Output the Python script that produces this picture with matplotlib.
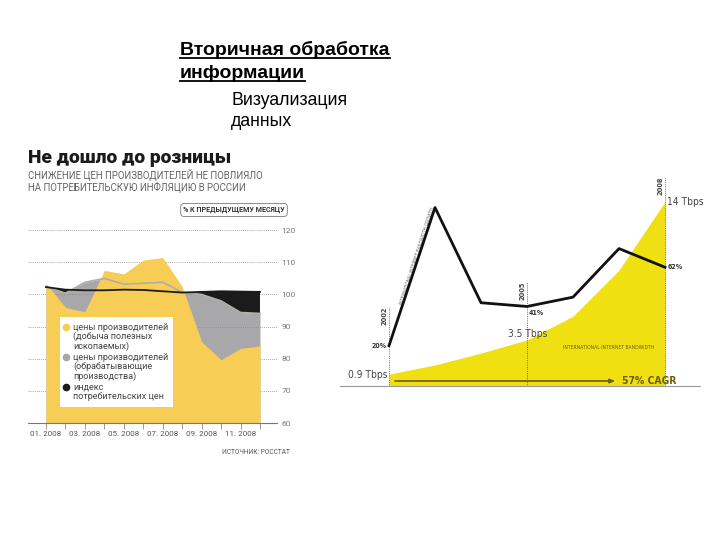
"""Slide: 'Вторичная обработка информации' with two example charts."""
import matplotlib
matplotlib.use("Agg")
import matplotlib.pyplot as plt
from matplotlib.lines import Line2D
from matplotlib.patches import FancyBboxPatch

# left chart: producer / consumer prices, % to previous month, 2008
MONTHS = list(range(1, 13))
MONTH_LABELS = ["01. 2008", "", "03. 2008", "", "05. 2008", "", "07. 2008", "",
                "09. 2008", "", "11. 2008", ""]
MINING = [103.5, 96.0, 94.6, 107.5, 106.4, 110.7, 111.5, 102.5, 85.3, 79.7, 83.2, 84.0]
MANUF = [102.5, 100.4, 103.8, 105.0, 103.2, 103.5, 103.8, 100.7, 100.0, 98.0, 94.4, 94.1]
CPI = [102.3, 101.5, 101.3, 101.3, 101.5, 101.4, 101.0, 100.6, 100.8, 101.0, 100.9, 100.8]
LEFT_YTICKS = [60, 70, 80, 90, 100, 110, 120]

# right chart: international internet bandwidth
YEARS = [2002, 2003, 2004, 2005, 2006, 2007, 2008]
BANDWIDTH = [0.9, 1.6, 2.5, 3.5, 5.3, 8.8, 14.0]  # Tbps
GROWTH = [20, 94, 43, 41, 46, 72, 62]  # %
MARKED_YEARS = [2002, 2005, 2008]

YELLOW_L = "#F8CD55"
GRAY_L = "#A8A8AA"
YELLOW_R = "#F0E012"
FONT_L = ["Roboto", "DejaVu Sans"]
FONT_R = ["Liberation Sans Narrow", "DejaVu Sans Condensed", "DejaVu Sans"]
ARIAL = ["Liberation Sans", "DejaVu Sans"]


def px(x, y):
    """pixel position on the 720x540 slide -> figure fraction"""
    return x / 720, 1 - y / 540


def header(fig):
    t1 = fig.text(*px(180, 55), "Вторичная обработка", fontsize=14, fontweight="bold",
                  family=ARIAL, va="baseline")
    t2 = fig.text(*px(180, 78), "информации", fontsize=14, fontweight="bold",
                  family=ARIAL, va="baseline")
    fig.text(*px(231, 105), "Визуализация", fontsize=12.8, family=ARIAL, va="baseline")
    fig.text(*px(231, 126), "данных", fontsize=12.8, family=ARIAL, va="baseline")
    fig.canvas.draw()
    r = fig.canvas.get_renderer()
    for t, y in ((t1, 58), (t2, 81)):
        bb = t.get_window_extent(r)
        x0, x1 = bb.x0 / fig.bbox.width, bb.x1 / fig.bbox.width
        yy = 1 - y / 540
        fig.add_artist(Line2D([x0, x1], [yy, yy], color="black", lw=1.3))


def prices(fig):
    ax = fig.add_axes([28 / 720, 1 - 423 / 540, 249 / 720, 196 / 540])
    ax.fill_between(MONTHS, 60, MANUF, color=GRAY_L, lw=0, zorder=1)
    ax.fill_between(MONTHS, 60, MINING, color=YELLOW_L, lw=0, zorder=2)
    ax.fill_between(MONTHS, MANUF, CPI, where=[c > m for c, m in zip(CPI, MANUF)],
                    interpolate=True, color="#1b1b1b", lw=0, zorder=3)
    ax.plot(MONTHS, MANUF, color="#b0aea6", lw=1.2, zorder=4)
    ax.plot(MONTHS, CPI, color="#1b1b1b", lw=1.3, zorder=5)
    ax.set_xlim(0.075, 12.875)
    ax.set_ylim(60, 121)
    ax.set_yticks(LEFT_YTICKS)
    ax.yaxis.tick_right()
    ax.tick_params(axis="y", length=0, pad=3, labelsize=6, labelcolor="#777")
    ax.set_xticks(MONTHS)
    ax.set_xticklabels(MONTH_LABELS)
    ax.tick_params(axis="x", length=4, width=0.6, color="#888", pad=2,
                   labelsize=5.8, labelcolor="#555")
    for lab in ax.get_xticklabels() + ax.get_yticklabels():
        lab.set_family(FONT_L)
    ax.grid(axis="y", ls=(0, (1, 1.5)), color="#888", lw=0.6, zorder=0)
    for s in ("top", "left", "right"):
        ax.spines[s].set_visible(False)
    ax.spines["bottom"].set_color("#777")
    ax.spines["bottom"].set_linewidth(0.8)
    ax.set_facecolor("none")

    # legend box drawn by hand
    fig.add_artist(FancyBboxPatch(px(60, 407), 113 / 720, 90 / 540, boxstyle="square,pad=0",
                                  fc="white", ec="none", zorder=6))
    items = [
        (YELLOW_L, ["цены производителей", "(добыча полезных", "ископаемых)"], 327),
        (GRAY_L, ["цены производителей", "(обрабатывающие", "производства)"], 357),
        ("#1b1b1b", ["индекс", "потребительских цен"], 387),
    ]
    for color, lines, y0 in items:
        fig.add_artist(Line2D([66 / 720], [1 - y0 / 540], marker="o", ms=4.5, color=color,
                              ls="none", zorder=7))
        fig.text(*px(73, y0 - 4.5), "\n".join(lines), fontsize=6.5, color="#444", family=FONT_L,
                 va="top", linespacing=1.05, zorder=7)

    fig.text(*px(28, 158), "Не дошло до розницы", fontsize=13.8, fontweight="black",
             family=FONT_L, va="center", color="#1b1b1b")
    fig.text(*px(28, 181), "СНИЖЕНИЕ ЦЕН ПРОИЗВОДИТЕЛЕЙ НЕ ПОВЛИЯЛО\nНА ПОТРЕБИТЕЛЬСКУЮ ИНФЛЯЦИЮ В РОССИИ",
             fontsize=6.9, color="#666", family=FONT_L, va="center", linespacing=1.2)
    fig.text(*px(234, 210), "% К ПРЕДЫДУЩЕМУ МЕСЯЦУ", fontsize=5.1, fontweight="bold", color="#333",
             family=FONT_L, ha="center", va="center",
             bbox=dict(boxstyle="round,pad=0.35,rounding_size=0.5", fc="white", ec="#777", lw=0.6))
    fig.text(*px(290, 452), "ИСТОЧНИК: РОССТАТ", fontsize=4.8, color="#555", family=FONT_L,
             ha="right", va="center")


def bandwidth(fig):
    ax = fig.add_axes([340 / 720, 1 - 386 / 540, 360 / 720, 216 / 540])
    ax.fill_between(YEARS, 0, BANDWIDTH, color=YELLOW_R, lw=0, zorder=1)
    ax.set_xlim(2000.935, 2008.76)
    ax.set_ylim(0, 16.4)
    ax.set_xticks([])
    ax.set_yticks([])
    for s in ("top", "left", "right"):
        ax.spines[s].set_visible(False)
    ax.spines["bottom"].set_color("#999")
    ax.spines["bottom"].set_linewidth(0.8)

    tops = {2002: 6.0, 2005: 7.9, 2008: 15.9}
    for yr in MARKED_YEARS:
        ax.plot([yr, yr], [0, tops[yr]], color="#555", lw=0.6, ls=(0, (1, 1.2)), zorder=3)
        ax.text(yr - 0.03, tops[yr], str(yr), rotation=90, ha="right", va="top", fontsize=5.3,
                fontweight="bold", fontstretch="condensed", color="#444", family=FONT_R)

    ax.annotate("", xy=(2006.98, 0.38), xytext=(2002.07, 0.38),
                arrowprops=dict(arrowstyle="-|>,head_length=0.3,head_width=0.12",
                                color="#6b5d0a", lw=1.2), zorder=4)
    kw = dict(family=FONT_R, fontstretch="condensed")
    ax.text(2007.07, 0.38, "57% CAGR", fontsize=7.5, fontweight="bold", color="#6b5d0a",
            va="center", ha="left", **kw)
    ax.text(2006.78, 2.9, "INTERNATIONAL INTERNET BANDWIDTH", fontsize=3.6, color="#6b5d0a",
            ha="center", va="center", **kw)
    ax.text(2002 - 0.04, 0.8, "0.9 Tbps", fontsize=7.3, color="#444", ha="right", va="center", **kw)
    ax.text(2005.02, 3.6, "3.5 Tbps", fontsize=7.3, color="#444", ha="center", va="bottom", **kw)
    ax.text(2008.04, 14, "14 Tbps", fontsize=7.3, color="#444", ha="left", va="center", **kw)

    gx = ax.twinx()
    gx.plot(YEARS, GROWTH, color="#111", lw=2.0, zorder=5)
    gx.set_ylim(-1.6, 114.1)
    gx.axis("off")
    gx.text(2002 - 0.05, 20, "20%", fontsize=5, fontweight="bold", color="#333",
            ha="right", va="center", **kw)
    gx.text(2005.04, 39, "41%", fontsize=5, fontweight="bold", color="#333",
            ha="left", va="top", **kw)
    gx.text(2008.05, 62, "62%", fontsize=5, fontweight="bold", color="#333",
            ha="left", va="center", **kw)
    gx.text(2002.62, 68, "INTERNATIONAL INTERNET BANDWIDTH GROWTH", fontsize=3.3, color="#666",
            rotation=72, rotation_mode="anchor", ha="center", va="center", **kw)


def main():
    fig = plt.figure(figsize=(7.2, 5.4), dpi=100)
    prices(fig)
    bandwidth(fig)
    header(fig)
    fig.savefig("out.png", dpi=100)


if __name__ == "__main__":
    main()
